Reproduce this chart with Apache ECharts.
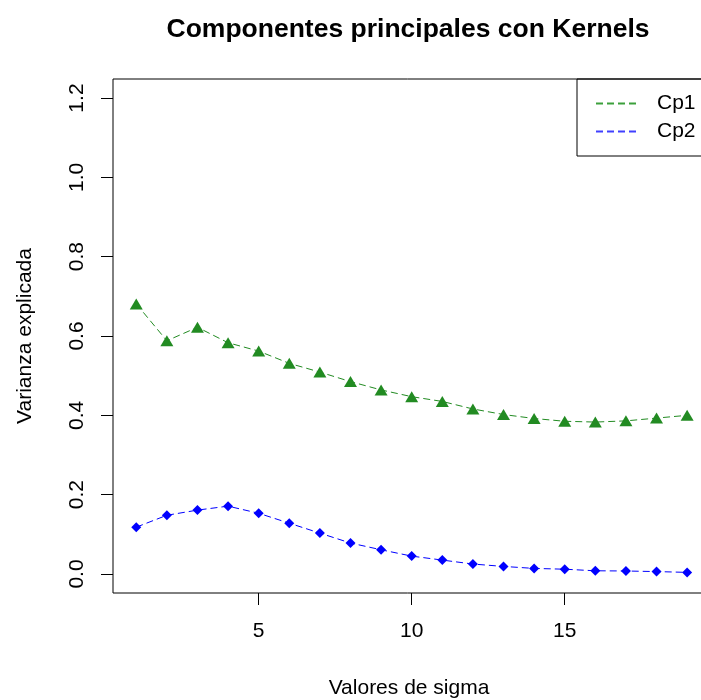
<!DOCTYPE html>
<html>
<head>
<meta charset="utf-8">
<script src="https://cdn.jsdelivr.net/npm/echarts@6/dist/echarts.min.js"></script>
<style>
html,body{margin:0;padding:0;background:#fff;}
#chart{width:701px;height:700px;}
</style>
</head>
<body>
<div id="chart"></div>
<script>
// Data
const sigma = [1,2,3,4,5,6,7,8,9,10,11,12,13,14,15,16,17,18,19];
const cp1 = [0.681,0.588,0.622,0.583,0.562,0.531,0.509,0.485,0.464,0.447,0.435,0.416,0.402,0.392,0.385,0.383,0.386,0.393,0.400];
const cp2 = [0.118,0.148,0.161,0.171,0.153,0.128,0.103,0.078,0.061,0.045,0.035,0.025,0.019,0.014,0.012,0.008,0.0075,0.006,0.004];
const xTicks = [5,10,15,20];
const yTicks = [0,0.2,0.4,0.6,0.8,1.0,1.2];
const seriesNames = ['Cp1','Cp2'];
const titleText = 'Componentes principales con Kernels';
const xTitle = 'Valores de sigma';
const yTitle = 'Varianza explicada';

const FONT = "'Liberation Sans', Arial, sans-serif";
const GREEN = '#228B22';
const BLUE = '#0000FF';
const LEG_GREEN = '#3CA03C';
const LEG_BLUE = '#4040FF';
const legendColors = [LEG_GREEN, LEG_BLUE];
const dashPath = 'path://M0,0h7v2h-7zM11,0h7v2h-7zM22,0h7v2h-7zM33,0h7v2h-7z';

const chart = echarts.init(document.getElementById('chart'), null, {renderer:'canvas'});
chart.setOption({
  backgroundColor:'#ffffff',
  animation:false,
  title:{
    text:titleText, left:408, top:16, textAlign:'center', padding:0,
    textStyle:{fontFamily:FONT, fontSize:26.5, fontWeight:'bold', color:'#000'}
  },
  legend:{
    orient:'vertical', left:577, top:79,
    borderColor:'#000', borderWidth:1,
    padding:[14,60,14,19],
    itemWidth:40, itemHeight:2, itemGap:7,
    symbolKeepAspect:false,
    textStyle:{fontFamily:FONT, fontSize:21, color:'#000', padding:[0,0,0,16]},
    data:seriesNames.map((n,i)=>({
      name:n, icon:dashPath,
      itemStyle:{color:legendColors[i], borderColor:legendColors[i], borderWidth:0, opacity:1}
    }))
  },
  grid:{left:113, top:79, width:628, height:514, show:true, borderColor:'#000', borderWidth:1,
        outerBoundsMode:'none', containLabel:false},
  xAxis:{
    type:'value', min:0.24, max:20.76,
    name:xTitle, nameLocation:'middle', nameGap:85,
    nameTextStyle:{fontFamily:FONT, fontSize:21, color:'#000', padding:[0,36,0,0]},
    axisLine:{show:false, onZero:false},
    axisTick:{show:true, inside:false, length:12, lineStyle:{color:'#000', width:1}, customValues:xTicks},
    axisLabel:{fontFamily:FONT, fontSize:21, color:'#000', margin:28, customValues:xTicks},
    splitLine:{show:false}
  },
  yAxis:{
    type:'value', min:-0.048, max:1.248,
    name:yTitle, nameLocation:'middle', nameGap:77, nameRotate:90,
    nameTextStyle:{fontFamily:FONT, fontSize:21, color:'#000'},
    axisLine:{show:false, onZero:false},
    axisTick:{show:true, inside:false, length:12, lineStyle:{color:'#000', width:1}, customValues:yTicks},
    axisLabel:{fontFamily:FONT, fontSize:21, color:'#000', margin:25, rotate:90, customValues:yTicks,
      formatter:v=>Number(v).toFixed(1)},
    splitLine:{show:false}
  },
  series:[
    {name:seriesNames[0], type:'line', data:sigma.map((x,i)=>[x,cp1[i]]),
     symbol:'triangle', symbolSize:[13,11],
     itemStyle:{color:GREEN}, lineStyle:{color:GREEN, width:1, type:[7,4]}},
    {name:seriesNames[1], type:'line', data:sigma.map((x,i)=>[x,cp2[i]]),
     symbol:'diamond', symbolSize:[10,10],
     itemStyle:{color:BLUE}, lineStyle:{color:BLUE, width:1, type:[7,4]}}
  ]
});
</script>
</body>
</html>
